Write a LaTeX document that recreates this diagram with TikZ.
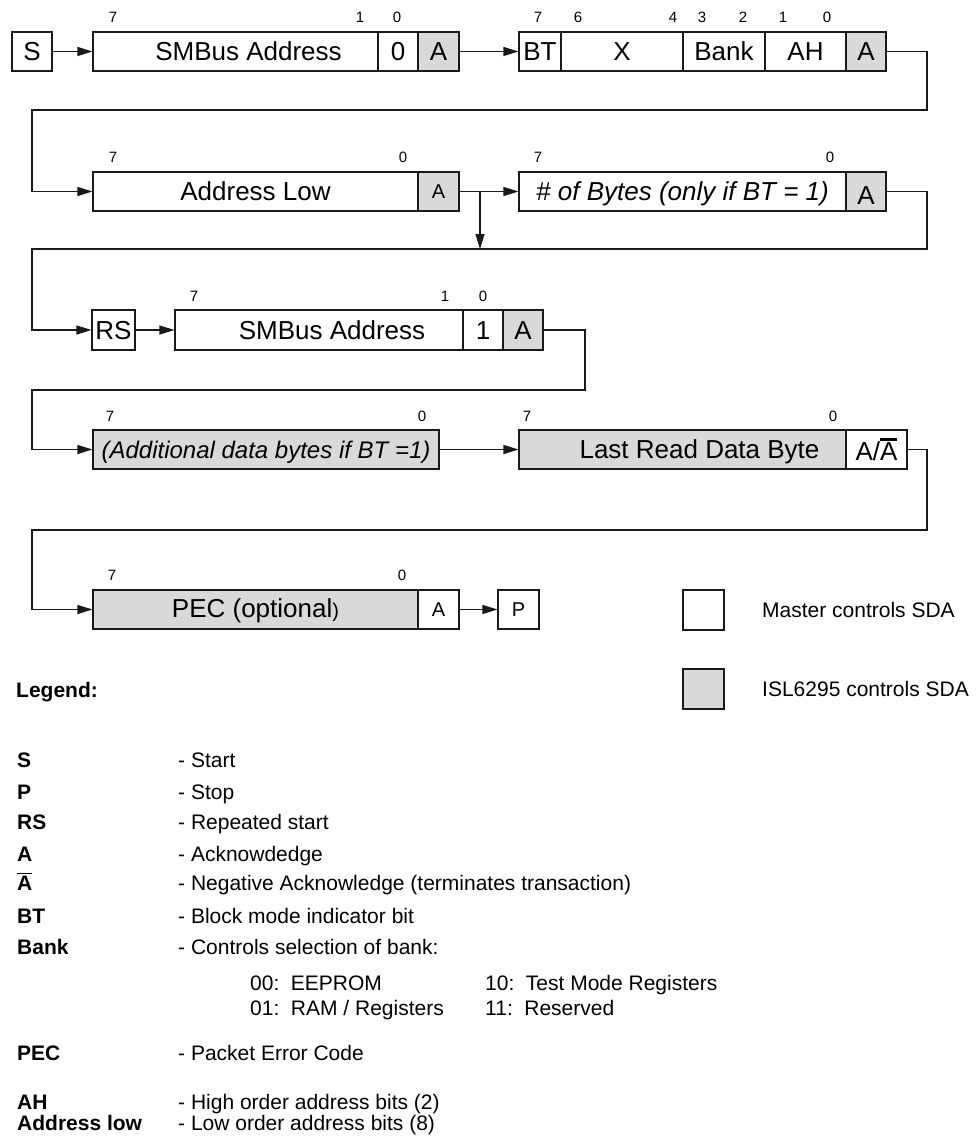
\documentclass[tikz,border=0pt]{standalone}
\usepackage{fontspec}
\setmainfont{Liberation Sans}
\usetikzlibrary{arrows.meta}

\definecolor{shade}{RGB}{217,217,217}
\definecolor{ink}{RGB}{25,25,25}

\newcommand{\Abar}[1][1.5pt]{\leavevmode\vbox{\hrule height #1\kern 2pt\hbox{A}}}
\newcommand{\boxfont}{\fontsize{26}{30}\selectfont}
\newcommand{\smallboxfont}{\fontsize{20}{24}\selectfont}
\newcommand{\bitfont}{\fontsize{15}{18}\selectfont}
\newcommand{\keyfont}{\fontsize{21}{25}\selectfont}

\begin{document}
\begin{tikzpicture}[x=1pt,y=-1pt,>={Triangle[length=15pt,width=9pt]}]
  \useasboundingbox (0,0) rectangle (977,1142);

  % frame fields
  \begin{scope}[every node/.style={rectangle,draw=ink,line width=1.1pt,fill=white,inner sep=0pt,
      minimum height=39pt,text height=18.7pt,text depth=0pt,font=\boxfont}]
    % row 1
    \node[minimum width=40pt]  (S)     at (32,51.5)    {S};
    \node[minimum width=285pt] (addr1) at (235.5,51.5) {\hspace*{26pt}SMBus Address};
    \node[minimum width=40pt]  (rw0)   at (398,51.5)   {0};
    \node[minimum width=41pt,fill=shade] (ack1) at (438.5,51.5) {A};
    \node[minimum width=42pt]  (bt)    at (540,51.5)   {BT};
    \node[minimum width=122pt] (xx)    at (622,51.5)   {X};
    \node[minimum width=82pt]  (bank)  at (724,51.5)   {Bank};
    \node[minimum width=81pt]  (ah)    at (805.5,51.5) {AH};
    \node[minimum width=40pt,fill=shade] (ack2) at (866,51.5) {A};
    % row 2
    \node[minimum width=325pt] (addrlow) at (255.5,191.5) {Address Low};
    \node[minimum width=41pt,fill=shade,font=\smallboxfont,text height=14.4pt] (ack3) at (438.5,191.5) {A};
    \node[minimum width=327pt,font=\boxfont\itshape] (nbytes) at (682.5,191.5) {\# of Bytes (only if BT = 1)};
    \node[minimum width=40pt,fill=shade,text height=26pt] (ack4) at (866,191.5) {A};
    % row 3
    \node[minimum width=43pt,minimum height=40pt]  (rs)    at (113.5,330) {RS};
    \node[minimum width=288pt,minimum height=40pt] (addr2) at (319,330)   {\hspace*{26pt}SMBus Address};
    \node[minimum width=40pt,minimum height=40pt]  (rw1)   at (483,330)   {1};
    \node[minimum width=40pt,minimum height=40pt,fill=shade] (ack5) at (523,330) {A};
    % row 4
    \node[minimum width=346pt,fill=shade,font=\fontsize{24}{28}\selectfont\itshape,text height=17.3pt] (data) at (266,449.5) {(Additional data bytes if BT =1)};
    \node[minimum width=327pt,fill=shade] (last) at (682.5,449.5) {\hspace*{34pt}Last Read Data Byte};
    \node[minimum width=61pt,text height=22pt]  (nack)  at (876.5,449.5) {A/\Abar[2.5pt]};
    % row 5
    \node[minimum width=325pt,fill=shade,text height=16pt] (pec) at (255.5,609.5) {PEC (optional{\smallboxfont)}};
    \node[minimum width=41pt,font=\smallboxfont,text height=14.4pt] (ack6) at (438.5,609.5) {A};
    \node[minimum width=41pt,font=\smallboxfont,text height=14.4pt] (P)    at (518.5,609.5) {P};
    % key boxes
    \node[minimum width=41pt,minimum height=40pt] (keyw) at (703.5,610) {};
    \node[minimum width=41pt,minimum height=40pt,fill=shade] (keyg) at (703.5,689) {};
  \end{scope}

  % bit numbers
  \begin{scope}[every node/.style={inner sep=0pt,font=\bitfont}]
    \foreach \bit/\xpos [count=\i] in {7/113,1/360,0/397,7/538,6/578,4/673,3/702,2/743,1/783,0/827}
      \node (bitA\i) at (\xpos,17) {\bit};
    \foreach \bit/\xpos [count=\i] in {7/113,0/403,7/538,0/830}
      \node (bitB\i) at (\xpos,157) {\bit};
    \foreach \bit/\xpos [count=\i] in {7/194,1/445,0/483}
      \node (bitC\i) at (\xpos,296) {\bit};
    \foreach \bit/\xpos [count=\i] in {7/110,0/422,7/527,0/833}
      \node (bitD\i) at (\xpos,416) {\bit};
    \foreach \bit/\xpos [count=\i] in {7/112,0/402}
      \node (bitE\i) at (\xpos,575) {\bit};
  \end{scope}

  % turning points of the wrap-around lines
  \coordinate (r1) at (927,110);   \coordinate (l1) at (32,110);
  \coordinate (r2) at (927,249);   \coordinate (l2) at (32,249);
  \coordinate (r3) at (585,390);   \coordinate (l3) at (32,390);
  \coordinate (r4) at (927,530);   \coordinate (l4) at (32,530);
  \coordinate (skip) at (480,191.5);

  % connectors
  \begin{scope}[every edge/.style={draw=ink,line width=1.1pt,->}]
    \path (S.east)    edge (addr1.west);
    \path (ack1.east) edge (bt.west);
    \path (ack3.east) edge (nbytes.west);
    \path (skip)      edge (skip |- r2);
    \path (rs.east)   edge (addr2.west);
    \path (data.east) edge (last.west);
    \path (ack6.east) edge (P.west);
  \end{scope}
  \begin{scope}[draw=ink,line width=1.1pt]
    \draw[->] (ack2.east) -| (r1) -- (l1) |- (addrlow.west);
    \draw[->] (ack4.east) -| (r2) -- (l2) |- (rs.west);
    \draw[->] (ack5.east) -| (r3) -- (l3) |- (data.west);
    \draw[->] (nack.east) -| (r4) -- (l4) |- (pec.west);
  \end{scope}

  % legend
  \begin{scope}[every node/.style={anchor=west,inner sep=0pt,font=\keyfont,text height=15pt,text depth=0pt}]
    \node (keywtext) at (762,610) {Master controls SDA};
    \node (keygtext) at (762,689) {ISL6295 controls SDA};
    \node (legendtitle) at (16,690) {\bfseries Legend:};
    \foreach \key/\desc/\ypos [count=\i] in {S/Start/760, P/Stop/792, RS/Repeated start/822,
        A/Acknowdedge/854, {\Abar[1.2pt]}/Negative Acknowledge (terminates transaction)/883,
        BT/Block mode indicator bit/916, Bank/Controls selection of bank:/947,
        PEC/Packet Error Code/1053, AH/High order address bits (2)/1102,
        Address low/Low order address bits (8)/1123} {
      \node (key\i)  at (17,\ypos)  {\bfseries\key};
      \node (desc\i) at (178,\ypos) {- \desc};
    }
    \node (bank00) at (250,983)  {00:\hspace{0.55em}EEPROM};
    \node (bank01) at (250,1008) {01:\hspace{0.55em}RAM / Registers};
    \node (bank10) at (485,983)  {10:\hspace{0.55em}Test Mode Registers};
    \node (bank11) at (485,1008) {11:\hspace{0.55em}Reserved};
  \end{scope}
\end{tikzpicture}
\end{document}
